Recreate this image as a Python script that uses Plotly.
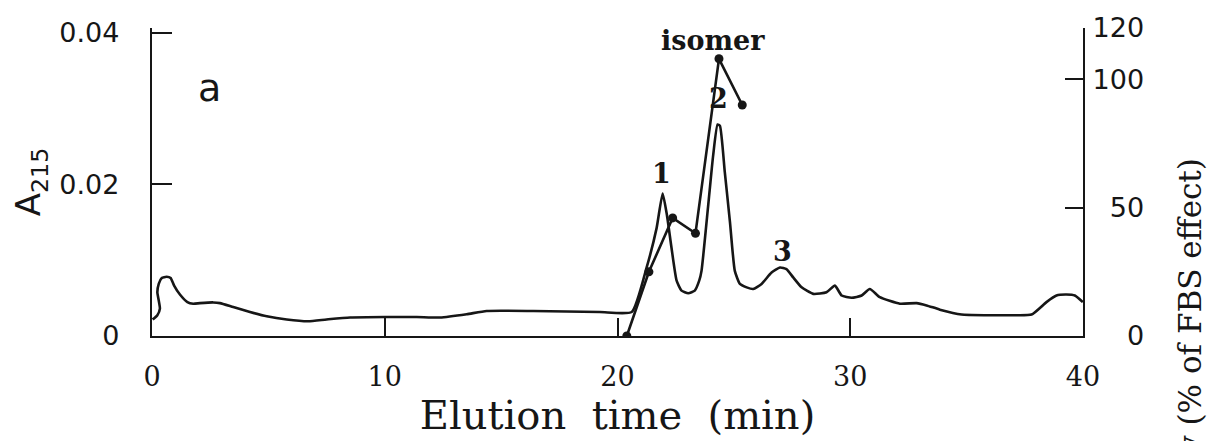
import plotly.graph_objects as go

# ---- data ----
time_min = [0.03, 0.23, 0.34, 0.29, 0.23, 0.29, 0.42, 0.63, 0.80, 0.95, 1.20, 1.52, 1.77,
            2.06, 2.63, 2.92, 3.49, 4.21, 4.93, 5.79, 6.71, 7.50, 8.51, 10.01, 11.37,
            12.37, 13.52, 14.38, 16.38, 19.24, 20.61, 21.25, 21.68, 21.94, 22.12, 22.32,
            22.54, 22.75, 23.04, 23.32, 23.51, 23.61, 23.90, 24.11, 24.30, 24.40, 24.61,
            24.83, 25.04, 25.26, 25.55, 25.83, 26.19, 26.62, 26.98, 27.26, 27.55, 27.91,
            28.41, 28.98, 29.34, 29.63, 30.06, 30.49, 30.84, 31.27, 32.13, 32.85, 33.28,
            33.85, 34.78, 35.85, 37.00, 37.79, 38.43, 38.86, 39.29, 39.65, 39.99]
a215 = [0.00218, 0.00274, 0.00361, 0.00469, 0.00577, 0.00687, 0.00765, 0.00782, 0.00765,
        0.00665, 0.00547, 0.00447, 0.00426, 0.00434, 0.00443, 0.00434, 0.00382, 0.00317,
        0.00261, 0.00218, 0.00195, 0.00218, 0.00244, 0.00251, 0.00251, 0.00244, 0.00287,
        0.00330, 0.00330, 0.00317, 0.00317, 0.00903, 0.01424, 0.01880, 0.01603, 0.01164,
        0.00730, 0.00599, 0.00564, 0.00599, 0.00730, 0.00860, 0.01733, 0.02384, 0.02792,
        0.02775, 0.02163, 0.01511, 0.00860, 0.00687, 0.00642, 0.00621, 0.00687, 0.00838,
        0.00903, 0.00882, 0.00773, 0.00642, 0.00556, 0.00577, 0.00665, 0.00534, 0.00504,
        0.00534, 0.00621, 0.00512, 0.00426, 0.00434, 0.00404, 0.00348, 0.00283, 0.00274,
        0.00274, 0.00283, 0.00447, 0.00534, 0.00547, 0.00534, 0.00447]

act_time = [20.40, 21.35, 22.37, 23.35, 24.36, 25.36]
act_pct = [0, 25, 46, 40, 108, 90]

x_ticks = [0, 10, 20, 30, 40]
y_ticks = [0, 0.02, 0.04]
y_tick_labels = ["0", "0.02", "0.04"]
y2_ticks = [0, 50, 100, 120]
y2_tick_labels = ["\u2007\u20070", "\u200750", "100", "120"]

peak_names = ["1", "2", "3"]
peak_x = [21.9, 24.36, 27.1]
peak_y = [0.0214, 0.0314, 0.0112]

INK = "#161616"
SERIF = "DejaVu Serif"
SANS = "DejaVu Sans"

fig = go.Figure()
fig.add_trace(go.Scatter(
    x=time_min, y=a215, mode="lines",
    line=dict(color=INK, width=2.6, shape="spline", smoothing=0.5),
    showlegend=False, hoverinfo="skip"))
fig.add_trace(go.Scatter(
    x=act_time, y=act_pct, mode="lines+markers", yaxis="y2",
    line=dict(color=INK, width=2.6),
    marker=dict(color=INK, size=9),
    showlegend=False, hoverinfo="skip"))

annotations = [
    dict(x=2.49, y=0.0327, xref="x", yref="y", text="a", showarrow=False,
         font=dict(family=SANS, size=38, color=INK)),
    dict(x=24.1, y=0.03896, xref="x", yref="y", text="isomer", showarrow=False,
         font=dict(family=SERIF, size=27, color=INK, weight="bold")),
    dict(x=1.115, y=0.585, xref="paper", yref="paper", text="Activity (% of FBS effect)",
         textangle=-90, showarrow=False, xanchor="center", yanchor="top",
         font=dict(family=SERIF, size=31, color=INK)),
]
for name, px_, py_ in zip(peak_names, peak_x, peak_y):
    annotations.append(dict(x=px_, y=py_, xref="x", yref="y", text=name, showarrow=False,
                            font=dict(family=SERIF, size=27, color=INK, weight="bold")))

fig.update_layout(
    width=1214, height=441,
    margin=dict(l=152, r=131, t=24, b=105),
    paper_bgcolor="white", plot_bgcolor="white",
    xaxis=dict(range=[0, 40], tickvals=x_ticks, ticks="inside", ticklen=18,
               tickwidth=2, tickcolor=INK, showline=True, linecolor=INK, linewidth=2.4,
               showgrid=False, zeroline=False, ticklabelstandoff=15,
               tickfont=dict(family=SERIF, size=27, color=INK),
               title=dict(text="Elution\u00a0\u00a0time\u00a0\u00a0(min)",
                          font=dict(family=SERIF, size=40, color=INK), standoff=7)),
    yaxis=dict(range=[0, 0.04065], tickvals=y_ticks, ticktext=y_tick_labels,
               ticks="inside", ticklen=20, tickwidth=2, tickcolor=INK,
               showline=True, linecolor=INK, linewidth=2.4, showgrid=False,
               zeroline=False, ticklabelstandoff=25,
               tickfont=dict(family=SANS, size=27, color=INK),
               title=dict(text="A<sub>215</sub>",
                          font=dict(family=SANS, size=34, color=INK), standoff=8)),
    yaxis2=dict(range=[0, 120], overlaying="y", side="right", tickvals=y2_ticks,
                ticktext=y2_tick_labels, ticks="inside", ticklen=18, tickwidth=2,
                tickcolor=INK, showline=True, linecolor=INK, linewidth=2.4,
                showgrid=False, zeroline=False, ticklabelstandoff=2,
                tickfont=dict(family=SANS, size=27, color=INK)),
    annotations=annotations,
)

fig.write_html("out.html")
